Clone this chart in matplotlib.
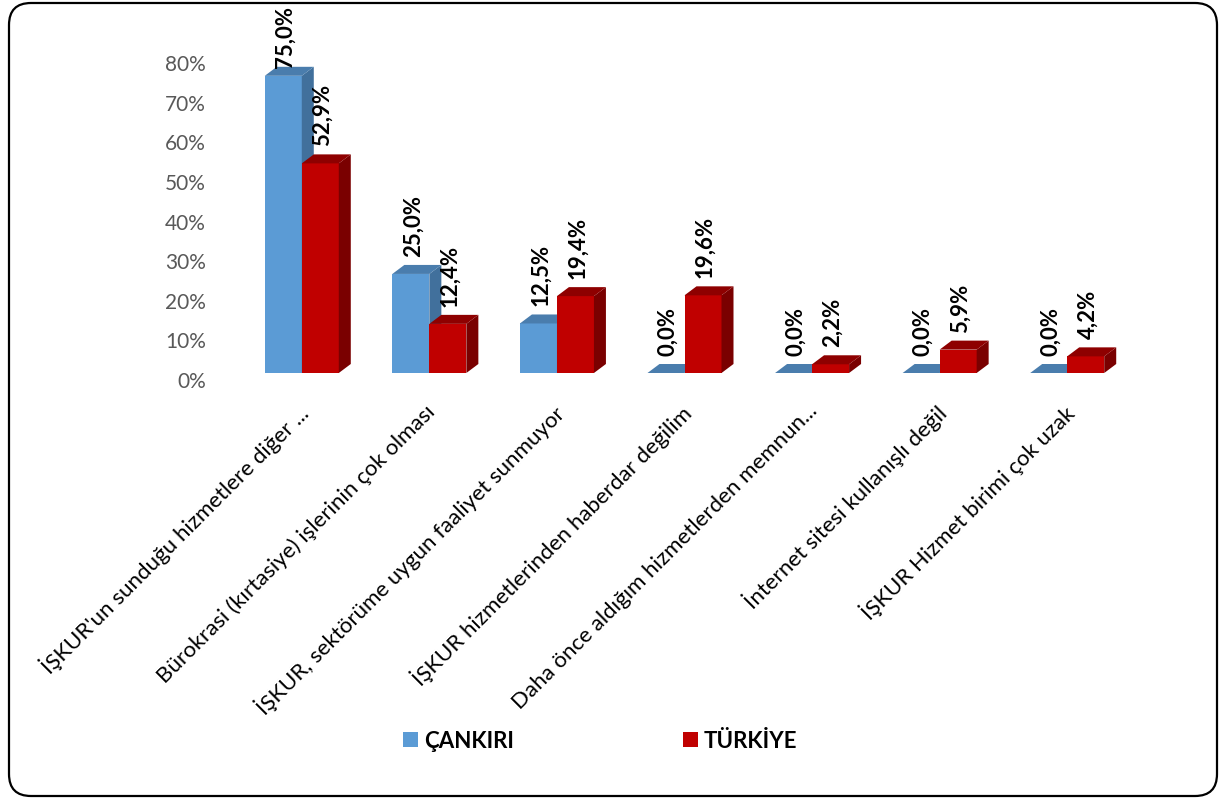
import matplotlib
matplotlib.use("Agg")
import matplotlib.pyplot as plt
import matplotlib.transforms as mtransforms
from matplotlib.patches import Polygon, Patch, FancyBboxPatch

# ---------------- data ----------------
categories = [
    "İŞKUR'un sunduğu hizmetlere diğer ...",
    "Bürokrasi (kırtasiye) işlerinin çok olması",
    "İŞKUR, sektörüme uygun faaliyet sunmuyor",
    "İŞKUR hizmetlerinden haberdar değilim",
    "Daha önce aldığım hizmetlerden memnun...",
    "İnternet sitesi kullanışlı değil",
    "İŞKUR Hizmet birimi çok uzak",
]
cankiri = [0.750, 0.250, 0.125, 0.000, 0.000, 0.000, 0.000]
turkiye = [0.529, 0.124, 0.194, 0.196, 0.022, 0.059, 0.042]
series_names = ["ÇANKIRI", "TÜRKİYE"]
yticks = [0.0, 0.1, 0.2, 0.3, 0.4, 0.5, 0.6, 0.7, 0.8]
ytick_labels = ["0%", "10%", "20%", "30%", "40%", "50%", "60%", "70%", "80%"]

# ---------------- style ----------------
plt.rcParams["font.family"] = ["Lato", "DejaVu Sans"]
W, H = 1219, 798
fig = plt.figure(figsize=(W / 100, H / 100), dpi=100)

ax_left, ax_right, ax_top, ax_bottom = 238, 1131, 56, 373  # pixels
ax = fig.add_axes([ax_left / W, (H - ax_bottom) / H,
                   (ax_right - ax_left) / W, (ax_bottom - ax_top) / H])
n = len(categories)
ax.set_xlim(-0.5, n - 0.5)
ax.set_ylim(0, 0.8)
ax.axis("off")

px_x = (ax_right - ax_left) / n
px_y = (ax_bottom - ax_top) / 0.8
dx = 12 / px_x
dy = 9 / px_y
bw = 37 / px_x

colors = {
    0: dict(front="#5B9BD5", side="#41709C", top="#4A7DAD"),
    1: dict(front="#C00000", side="#7A0000", top="#8E0000"),
}

z = [2]


def draw_bar(x0, v, c):
    ax.bar(x0, v, width=bw, align="edge", color=c["front"], linewidth=0, zorder=z[0])
    side = Polygon([(x0 + bw, 0), (x0 + bw + dx, dy), (x0 + bw + dx, v + dy), (x0 + bw, v)],
                   closed=True, facecolor=c["side"], edgecolor="none", zorder=z[0])
    top = Polygon([(x0, v), (x0 + dx, v + dy), (x0 + bw + dx, v + dy), (x0 + bw, v)],
                  closed=True, facecolor=c["top"], edgecolor="none", zorder=z[0])
    ax.add_patch(side)
    ax.add_patch(top)
    z[0] += 1


def label_bar(xc, v):
    top_px = ax_bottom - v * px_y
    bottom_px = top_px - 17
    if bottom_px - 60 < 8:
        bottom_px = 68
    off = top_px - bottom_px
    ax.annotate(f"{v * 100:.1f}%".replace(".", ","), xy=(xc, v), xytext=(2, off),
                textcoords="offset pixels", rotation=90, ha="center", va="bottom",
                fontsize=16, fontweight="bold", color="black", annotation_clip=False,
                zorder=50)


for i in range(n):
    draw_bar(i - bw, cankiri[i], colors[0])
    draw_bar(i, turkiye[i], colors[1])

for i in range(n):
    label_bar(i - bw / 2, cankiri[i])
    label_bar(i + bw / 2, turkiye[i])

# category labels
for i, cat in enumerate(categories):
    ax.annotate(cat, xy=(i, 0), xytext=(-5, -28), textcoords="offset pixels",
                rotation=45, rotation_mode="anchor", ha="right", va="top",
                fontsize=16, color="black", annotation_clip=False)

# y tick labels (on the back wall, shifted down by the depth)
blend = mtransforms.blended_transform_factory(ax.transAxes, ax.transData)
for t, lab in zip(yticks, ytick_labels):
    ax.annotate(lab, xy=(0, t), xycoords=blend, xytext=(-32, -9),
                textcoords="offset pixels", ha="right", va="center",
                fontsize=15, color="#595959", annotation_clip=False)

# legend
handles = [Patch(facecolor=colors[0]["front"]), Patch(facecolor=colors[1]["front"])]
fig.legend(handles, series_names, loc="center", bbox_to_anchor=(600 / W, 1 - 741 / H),
           ncol=2, frameon=False, prop=dict(weight="bold", size=16),
           handlelength=0.68, handleheight=0.68, handletextpad=0.27, columnspacing=7.6)

# rounded border
border = FancyBboxPatch((9 / 100, 2 / 100), 1208 / 100, 793 / 100,
                        boxstyle="round,pad=0,rounding_size=0.22",
                        transform=fig.dpi_scale_trans, fill=False,
                        edgecolor="black", linewidth=1.6)
fig.patches.append(border)

fig.savefig("out.png", dpi=100, facecolor="white")
